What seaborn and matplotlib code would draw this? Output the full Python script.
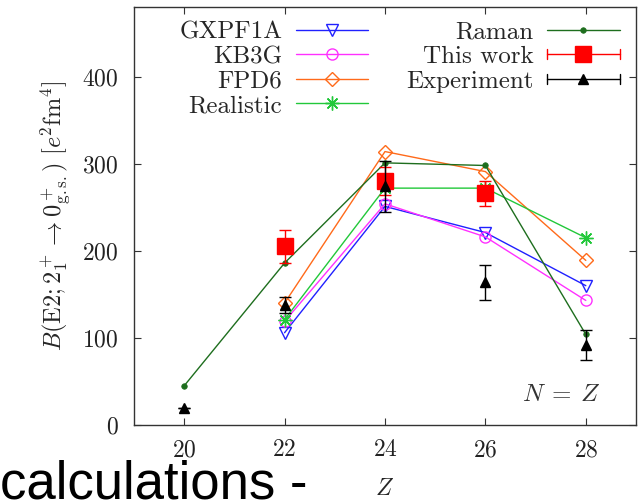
import numpy as np
import pandas as pd
import matplotlib
matplotlib.use("Agg")
import matplotlib.pyplot as plt
import seaborn as sb
from matplotlib.lines import Line2D
from matplotlib.legend_handler import HandlerBase
from matplotlib.container import ErrorbarContainer

# Dados
z_all = [20, 22, 24, 26, 28]
z_model = [22, 24, 26, 28]

gxpf1a = [106, 251, 221, 160]
kb3g = [119, 254, 216, 143]
fpd6 = [140, 314, 291, 189]
realistic = [121, 272, 272, 215]
raman = [45, 186, 301, 298, 104]

z_this = [22, 24, 26]
this_work = [205, 280, 266]
this_work_err = [19, 16, 14]

z_exp = [20, 22, 24, 26, 28]
experiment = [19, 138, 274, 164, 92]
experiment_err = [0, 9, 29, 20, 17]

# Estilo
sb.set_style("ticks")
plt.rcParams.update({
    'font.family': 'cmr10',
    'mathtext.fontset': 'cm',
    'axes.formatter.use_mathtext': True,
    'axes.edgecolor': '#333333',
    'axes.linewidth': 1.0,
    'xtick.direction': 'in',
    'ytick.direction': 'in',
    'xtick.top': True,
    'ytick.right': True,
    'xtick.major.size': 5,
    'ytick.major.size': 5,
    'xtick.color': '#333333',
    'ytick.color': '#333333',
    'xtick.labelcolor': '#222222',
    'ytick.labelcolor': '#222222',
    'font.size': 17,
})


class GnuErrHandler(HandlerBase):
    def create_artists(self, legend, orig_handle, xdescent, ydescent,
                       width, height, fontsize, trans):
        data_line = orig_handle.lines[0]
        color = data_line.get_color()
        y = height / 2 - ydescent
        x0, x1 = -xdescent, width - xdescent
        cap = 0.2 * fontsize
        arts = [Line2D([x0, x1], [y, y], color=color, lw=1),
                Line2D([x0, x0], [y - cap, y + cap], color=color, lw=1),
                Line2D([x1, x1], [y - cap, y + cap], color=color, lw=1),
                Line2D([(x0 + x1) / 2], [y], marker=data_line.get_marker(),
                       ms=data_line.get_markersize(), color=color, ls='none')]
        for a in arts:
            a.set_transform(trans)
        return arts


fig = plt.figure(figsize=(6.44, 5), dpi=100)
ax = fig.add_axes([0.208, 0.15, 0.7796, 0.836])

series = [
    ("GXPF1A", z_model, gxpf1a, '#2020ff', 'v', 8),
    ("KB3G", z_model, kb3g, '#ff30ff', 'o', 8),
    ("FPD6", z_model, fpd6, '#ff6a1a', 'D', 7),
    ("Realistic", z_model, realistic, '#22c83a', (8, 2, 0), 10),
]
for nome, zs, vals, cor, mk, ms in series:
    sb.lineplot(x=zs, y=vals, color=cor, marker=mk, ms=ms, mfc='none',
                mec=cor, mew=1.0, lw=1.0, label=nome, ax=ax)

sb.lineplot(x=z_all, y=raman, color='#1e6e1e', marker='o', ms=4, mec='#1e6e1e',
            mew=0.5, lw=1.0, label="Raman", ax=ax)

eb_this = ax.errorbar(z_this, this_work, yerr=this_work_err, fmt='s', color='#ff0000',
                      ms=11, capsize=4.5, elinewidth=1, capthick=1, label="This work", zorder=5)
eb_exp = ax.errorbar(z_exp, experiment, yerr=experiment_err, fmt='^', color='black',
                     ms=7, capsize=4.5, elinewidth=1, capthick=1, label="Experiment", zorder=6)

ax.set_xlim(19, 29)
ax.set_ylim(0, 480)
ax.set_xticks([20, 22, 24, 26, 28])
ax.set_yticks([0, 100, 200, 300, 400])
ax.tick_params(axis='x', pad=10)
ax.tick_params(axis='y', pad=11)
ax.set_xlabel('$Z$', fontsize=17, labelpad=12)
ax.set_ylabel(r'$B(\mathrm{E2;}2_1^+\rightarrow 0^+_{\mathrm{g.s.}})\ [e^2\mathrm{fm}^4]$',
              fontsize=17.5, labelpad=7)

ax.text(0.928, 0.072, '$N\\:=\\:Z$', transform=ax.transAxes, ha='right', va='center',
        fontsize=18, color='#333333')

handles, labels = ax.get_legend_handles_labels()
orden = ["GXPF1A", "KB3G", "FPD6", "Realistic", "Raman", "This work", "Experiment"]
h_dict = dict(zip(labels, handles))
leg = ax.legend([h_dict[k] for k in orden], orden, ncol=2, markerfirst=False,
                loc='upper left', bbox_to_anchor=(0.09, 0.966), frameon=False,
                fontsize=18, numpoints=1, handlelength=2.9, handletextpad=0.55,
                columnspacing=1.5, labelspacing=0.08, borderpad=0, borderaxespad=0,
                handler_map={ErrorbarContainer: GnuErrHandler()})

# texto do slide, cortado na borda inferior como na imagem original
fig.text(0.0, 0.003, 'calculations -', fontsize=38, family='Liberation Sans',
         color='black', ha='left', va='baseline')

fig.savefig("out.png", dpi=100)
